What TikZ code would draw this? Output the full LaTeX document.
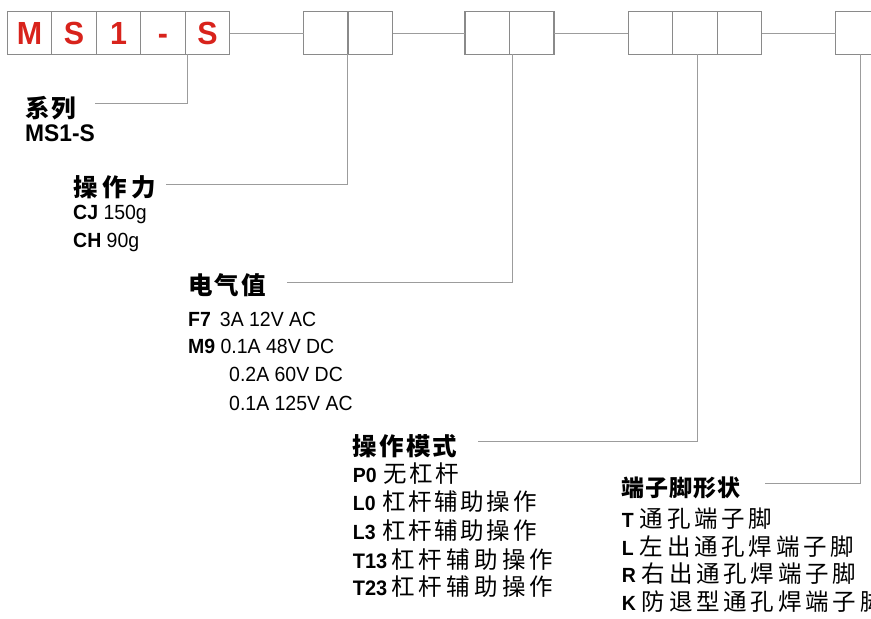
\documentclass[tikz,border=0pt]{standalone}
\usepackage{fontspec}
\setmainfont{Liberation Sans}
\newfontfamily\lat[FakeStretch=0.95]{Liberation Sans}
\newfontfamily\cjk{Noto Sans CJK SC}
\newcommand\zh[2][11]{{\cjk\fontsize{23.5}{23.5}\selectfont\addfontfeature{LetterSpace=#1}#2}}
\definecolor{boxgray}{HTML}{8A8A8A}
\definecolor{linegray}{HTML}{9C9C9C}
\definecolor{codered}{HTML}{D8231C}
\begin{document}
\begin{tikzpicture}[x=1pt,y=-1pt,
  cell/.style={draw=boxgray,line width=1.2pt,minimum width=44.5pt,minimum height=42.6pt,inner sep=0pt,outer sep=0pt},
  code/.style={cell,text=codered,text height=23pt,text depth=0pt,font=\lat\bfseries\fontsize{32}{32}\selectfont},
  lead/.style={draw=linegray,line width=1pt},
  head/.style={anchor=base west,inner sep=0pt,font=\cjk\bfseries\fontsize{24.5}{24.5}\selectfont},
  item/.style={anchor=base west,inner sep=0pt,font=\lat\fontsize{20.5}{20.5}\selectfont}]
\useasboundingbox (0,0) rectangle (871,619);
\clip (0,0) rectangle (871,619);
% code boxes
\node[code] (a1) at (29.5,33) {M};
\node[code] (a2) at (74,33) {S};
\node[code] (a3) at (118.5,33) {1};
\node[code] (a4) at (163,33) {-};
\node[code] (a5) at (207.5,33) {S};
\node[cell] (b1) at (325.8,33) {};
\node[cell] (b2) at (370.3,33) {};
\node[cell] (c1) at (487.2,33) {};
\node[cell] (c2) at (531.7,33) {};
\node[cell] (d1) at (650.6,33) {};
\node[cell] (d2) at (695.1,33) {};
\node[cell] (d3) at (739.5,33) {};
\node[cell] (e1) at (858,33) {};
\draw[lead] (a5.east) -- (b1.west);
\draw[lead] (b2.east) -- (c1.west);
\draw[lead] (c2.east) -- (d1.west);
\draw[lead] (d3.east) -- (e1.west);
% series
\node[head] (h1) at (25,117.4) {\addfontfeature{LetterSpace=9}系列};
\node[item] (m1) at (25,141.7) {\fontsize{24}{24}\selectfont\bfseries MS1-S};
\coordinate (s1) at (95,103.3);
\coordinate (k1) at (187,103.3);
\draw[lead] (s1) -- (k1) -- (k1 |- a5.south);
% force
\node[head] (h2) at (73,196.5) {\addfontfeature{LetterSpace=20}操作力};
\node[item] (f1) at (73,219.5) {{\bfseries CJ} 150g};
\node[item] (f2) at (73,247) {{\bfseries CH} 90g};
\coordinate (s2) at (166,184);
\coordinate (k2) at (347,184);
\draw[lead] (s2) -- (k2) -- (k2 |- b2.south);
% rating
\node[head] (h3) at (188,294.5) {\addfontfeature{LetterSpace=9}电气值};
\node[item] (r1) at (188,326) {{\bfseries F7}\hspace{9pt}3A 12V AC};
\node[item] (r2) at (188,353.5) {{\bfseries M9} 0.1A 48V DC};
\node[item] (r3) at (229,381.5) {0.2A 60V DC};
\node[item] (r4) at (229,410) {0.1A 125V AC};
\coordinate (s3) at (287,282.7);
\coordinate (k3) at (512,282.7);
\draw[lead] (s3) -- (k3) -- (k3 |- c2.south);
% mode
\node[head] (h4) at (352.7,455) {\addfontfeature{LetterSpace=9}操作模式};
\node[item] (p1) at (352.7,482) {{\bfseries P0}\hspace{7pt}\zh{无杠杆}};
\node[item] (p2) at (352.7,510) {{\bfseries L0}\hspace{7pt}\zh{杠杆辅助操作}};
\node[item] (p3) at (352.7,539) {{\bfseries L3}\hspace{7pt}\zh{杠杆辅助操作}};
\node[item] (p4) at (352.7,568) {{\fontsize{21}{21}\selectfont\bfseries T13}\hspace{4pt}\zh[18]{杠杆辅助操作}};
\node[item] (p5) at (352.7,595) {{\fontsize{21}{21}\selectfont\bfseries T23}\hspace{4pt}\zh[18]{杠杆辅助操作}};
\coordinate (s4) at (478,441.7);
\coordinate (k4) at (697,441.7);
\draw[lead] (s4) -- (k4) -- (k4 |- d2.south);
% terminal
\node[head] (h5) at (621.7,496) {\fontsize{23}{23}\selectfont\addfontfeature{LetterSpace=4}端子脚形状};
\node[item] (t1) at (621.7,527) {{\bfseries T}\hspace{6pt}\zh[16]{通孔端子脚}};
\node[item] (t2) at (621.7,555) {{\bfseries L}\hspace{6pt}\zh[16]{左出通孔焊端子脚}};
\node[item] (t3) at (621.7,582) {{\bfseries R}\hspace{6pt}\zh[16]{右出通孔焊端子脚}};
\node[item] (t4) at (621.7,610) {{\bfseries K}\hspace{6pt}\zh[16]{防退型通孔焊端子脚}};
\coordinate (s5) at (765,483.3);
\coordinate (k5) at (860,483.3);
\draw[lead] (s5) -- (k5) -- (k5 |- e1.south);
\end{tikzpicture}
\end{document}
